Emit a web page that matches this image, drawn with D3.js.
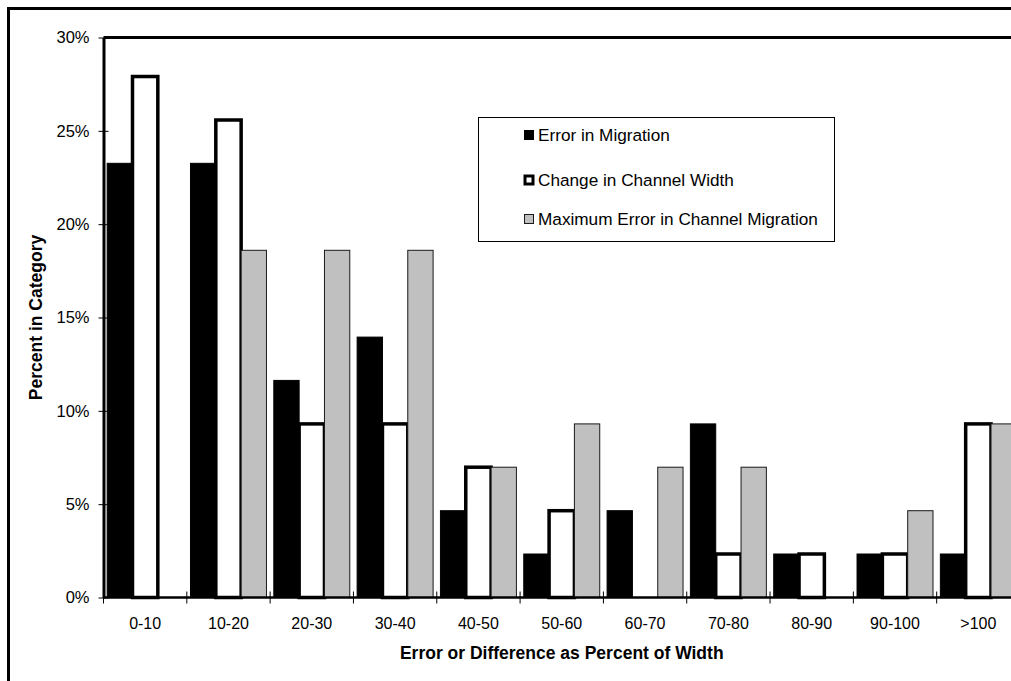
<!DOCTYPE html>
<html>
<head>
<meta charset="utf-8">
<script src="https://cdn.jsdelivr.net/npm/d3@7"></script>
<style>
  body { margin: 0; background: #fff; }
  svg { display: block; }
  text { font-family: Arial, "Liberation Sans", sans-serif; fill: #000; }
</style>
</head>
<body>
<svg id="chart" width="1011" height="681"></svg>
<script>
// ---- data ----
const categories = ["0-10", "10-20", "20-30", "30-40", "40-50", "50-60", "60-70", "70-80", "80-90", "90-100", ">100"];
const seriesNames = ["Error in Migration", "Change in Channel Width", "Maximum Error in Channel Migration"];
const errorInMigration = [23.26, 23.26, 11.63, 13.95, 4.65, 2.33, 4.65, 9.30, 2.33, 2.33, 2.33];
const changeInWidth   = [27.91, 25.58, 9.30, 9.30, 6.98, 4.65, 0, 2.33, 2.33, 2.33, 9.30];
const maxErrorMigration = [0, 18.60, 18.60, 18.60, 6.98, 9.30, 6.98, 6.98, 0, 4.65, 9.30];
const yTicks = [0, 5, 10, 15, 20, 25, 30];
const xTitle = "Error or Difference as Percent of Width";
const yTitle = "Percent in Category";

const seriesValues = [errorInMigration, changeInWidth, maxErrorMigration];
const styles = [
  { fill: "#000000", stroke: "#000000", sw: 1 },
  { fill: "#ffffff", stroke: "#000000", sw: 3.5 },
  { fill: "#c0c0c0", stroke: "#1a1a1a", sw: 1 }
];

const svg = d3.select("#chart");
const pLeft = 103.5, pRight = 1020, pTop = 37.5, pBottom = 597.5;

const x = d3.scaleBand().domain(categories).range([pLeft, pRight]).paddingInner(0).paddingOuter(0);
const xs = d3.scaleBand().domain(seriesNames).range([0, x.bandwidth()]).paddingInner(0).paddingOuter(0.145);
const y = d3.scaleLinear().domain([0, 30]).range([pBottom, pTop]);

// outer frame
svg.append("rect").attr("x", 8.5).attr("y", 8.5).attr("width", 1200).attr("height", 900)
  .attr("fill", "none").attr("stroke", "#000").attr("stroke-width", 3);

// bars
seriesNames.forEach((s, si) => {
  const st = styles[si];
  svg.append("g").selectAll("rect")
    .data(categories.map((c, i) => ({ c, v: seriesValues[si][i] })).filter(d => d.v > 0))
    .join("rect")
    .attr("x", d => x(d.c) + xs(s))
    .attr("y", d => y(d.v))
    .attr("width", xs.bandwidth())
    .attr("height", d => y(0) - y(d.v))
    .attr("fill", st.fill)
    .attr("stroke", st.stroke)
    .attr("stroke-width", st.sw);
});

// plot frame top
svg.append("line").attr("x1", pLeft).attr("x2", pRight + 20).attr("y1", pTop).attr("y2", pTop)
  .attr("stroke", "#000").attr("stroke-width", 3);

// y axis
const yAxis = d3.axisLeft(y).tickValues(yTicks).tickFormat(d => d + "%").tickSizeInner(5).tickSizeOuter(0).tickPadding(9);
const gy = svg.append("g").attr("transform", `translate(${pLeft},0)`).call(yAxis);
gy.select(".domain").attr("stroke-width", 3);
gy.selectAll(".tick line").attr("x2", -5).attr("x1", 5).attr("stroke-width", 1);
gy.selectAll(".tick text").style("font-size", "16.5px").attr("font-family", "Arial, 'Liberation Sans', sans-serif");

// x axis
const gx = svg.append("g").attr("transform", `translate(0,${pBottom})`);
gx.append("line").attr("x1", pLeft).attr("x2", pRight + 20).attr("stroke", "#000").attr("stroke-width", 2.5);
const bounds = categories.map(c => x(c));
gx.selectAll(".xt").data(bounds).join("line").attr("class", "xt")
  .attr("x1", d => d).attr("x2", d => d).attr("y1", -6).attr("y2", 6)
  .attr("stroke", "#000").attr("stroke-width", 1);
gx.selectAll(".xl").data(categories).join("text").attr("class", "xl")
  .attr("x", d => x(d) + x.bandwidth() / 2).attr("y", 31)
  .attr("text-anchor", "middle").style("font-size", "16px").text(d => d);

// axis titles
svg.append("text").attr("x", (pLeft + pRight) / 2).attr("y", 659)
  .attr("text-anchor", "middle").style("font-size", "17.5px").style("font-weight", "bold").text(xTitle);
svg.append("text").attr("transform", `translate(42,${(pTop + pBottom) / 2}) rotate(-90)`)
  .attr("text-anchor", "middle").style("font-size", "17.5px").style("font-weight", "bold").text(yTitle);

// legend
const lg = svg.append("g");
lg.append("rect").attr("x", 478.5).attr("y", 117.5).attr("width", 356).attr("height", 124)
  .attr("fill", "#fff").attr("stroke", "#000").attr("stroke-width", 1);
const legY = [135, 180, 219];
seriesNames.forEach((s, i) => {
  const st = styles[i];
  const sz = i === 1 ? 8 : 9;
  lg.append("rect").attr("x", 529 - sz / 2).attr("y", legY[i] - sz / 2).attr("width", sz).attr("height", sz)
    .attr("fill", st.fill).attr("stroke", st.stroke).attr("stroke-width", i === 1 ? 3 : 1);
  lg.append("text").attr("x", 538).attr("y", legY[i] + 6).style("font-size", "17.2px").text(s);
});
</script>
</body>
</html>
